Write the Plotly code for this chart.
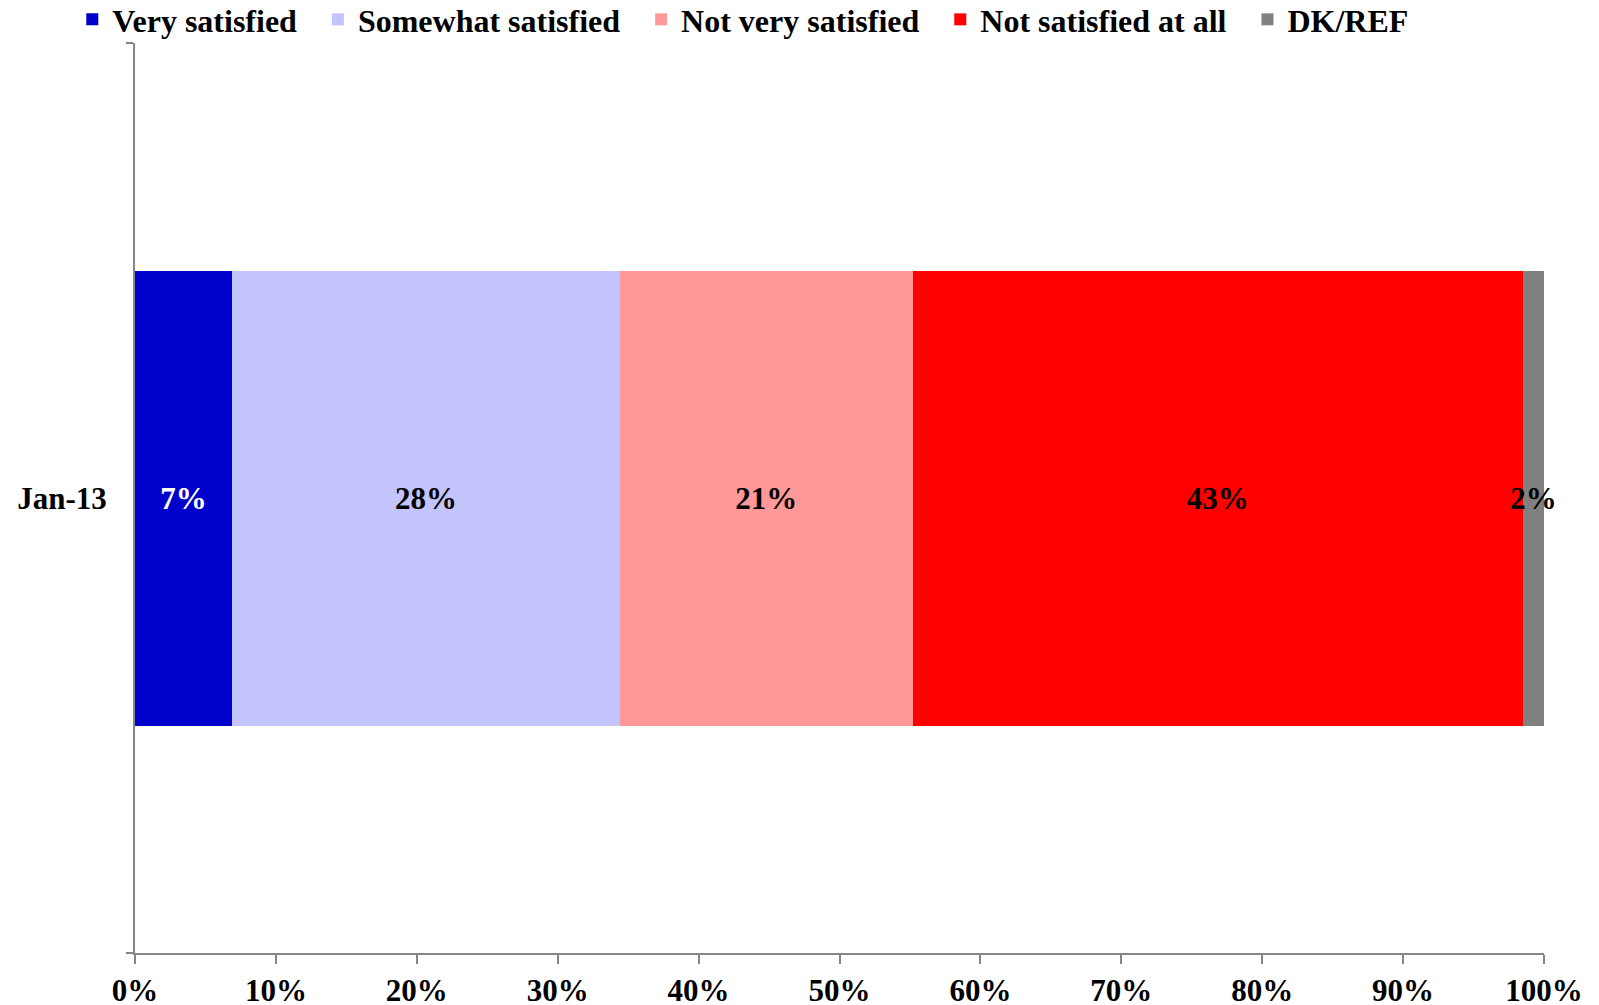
import plotly.graph_objects as go

categories = ["Jan-13"]
series_names = ["Very satisfied", "Somewhat satisfied", "Not very satisfied",
                "Not satisfied at all", "DK/REF"]
series_values = [[6.9], [27.5], [20.8], [43.3], [1.5]]
series_labels = [["7%"], ["28%"], ["21%"], ["43%"], ["2%"]]
series_colors = ["#0000CC", "#C3C3FD", "#FF9999", "#FF0000", "#808080"]
label_colors = ["white", "black", "black", "black", "black"]
x_ticks = [0, 10, 20, 30, 40, 50, 60, 70, 80, 90, 100]
x_tick_text = [f"{v}%" for v in x_ticks]

FONT = "Liberation Serif"
pad = "\u00a0" * 2

fig = go.Figure()
for name, vals, labs, col, lcol in zip(series_names, series_values, series_labels,
                                        series_colors, label_colors):
    fig.add_trace(go.Bar(
        name=name + pad, y=categories, x=vals, orientation="h",
        marker=dict(color=col, line=dict(width=0)),
        text=labs, textposition="inside", insidetextanchor="middle",
        textangle=0, constraintext="none", cliponaxis=False,
        textfont=dict(family=FONT, size=31, color=lcol, weight="bold"),
        hoverinfo="skip",
    ))

fig.update_layout(
    barmode="stack", bargap=0.5,
    width=1599, height=1005,
    margin=dict(l=135, r=55, t=43, b=52, autoexpand=False),
    paper_bgcolor="white", plot_bgcolor="white",
    font=dict(family=FONT, size=31, color="black", weight="bold"),
    showlegend=True,
    legend=dict(orientation="h", xref="paper", yref="paper",
                x=-0.0445, xanchor="left", y=1.056, yanchor="top",
                font=dict(family=FONT, size=32, color="black", weight="bold"),
                traceorder="normal", itemclick=False, tracegroupgap=0,
                bgcolor="rgba(0,0,0,0)"),
)
fig.update_xaxes(range=[0, 100], tickvals=x_ticks, ticktext=x_tick_text,
                 showgrid=False, zeroline=False, showline=True, linecolor="#868686",
                 linewidth=2, ticks="outside", ticklen=9, tickcolor="#868686",
                 tickwidth=2, tickfont=dict(family=FONT, size=31, color="black", weight="bold"),
                 fixedrange=True, automargin=False)
fig.update_yaxes(type="category", showgrid=False, zeroline=False, showline=True,
                 linecolor="#868686", linewidth=2, ticks="outside", ticklen=7,
                 tickcolor="#868686", tickwidth=2, tickson="boundaries",
                 tickfont=dict(family=FONT, size=31, color="black", weight="bold"),
                 ticklabelstandoff=20, fixedrange=True, automargin=False)

fig.write_html("out.html", config={"displayModeBar": False},
               post_script="document.body.style.margin='0';")
